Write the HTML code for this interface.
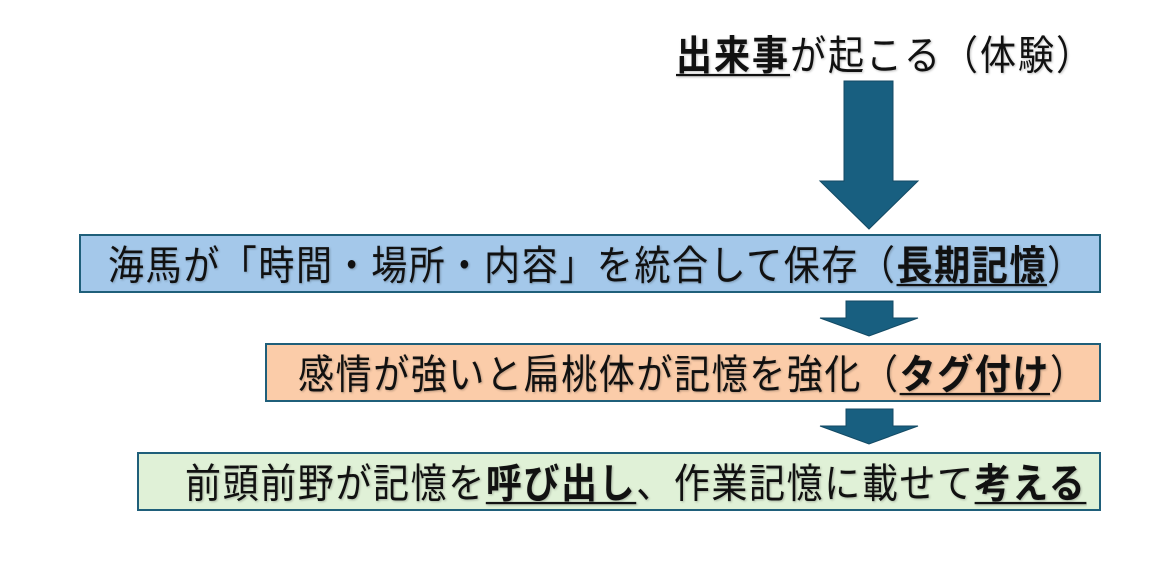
<!DOCTYPE html>
<html><head><meta charset="utf-8"><style>
body{margin:0;width:1168px;height:562px;background:#fff;position:relative;overflow:hidden;font-family:"Liberation Sans","Noto Sans CJK JP",sans-serif;}
.t{position:absolute;font-size:36px;line-height:40px;white-space:nowrap;color:#111;letter-spacing:1.6px;transform:scaleY(1.12);transform-origin:left center;text-shadow:1px 1px 2px rgba(0,0,0,0.25);}
.box{position:absolute;border:2px solid #1f5f7a;box-sizing:border-box;}
u{text-decoration-thickness:2px;text-underline-offset:4px;}
b{font-weight:bold;}
</style></head><body>
<div class="t" style="left:676px;top:36px;letter-spacing:2px;"><u><b>出来事</b></u>が起こる（体験）</div>
<svg style="position:absolute;left:0;top:0" width="1168" height="562">
<polygon points="844,81 893,81 893,181 918,181 869,229 820,181 844,181" fill="#185f80" stroke="#134a64" stroke-width="1"/>
<polygon points="846,301 893,301 893,318 918,318 869,336 820,318 846,318" fill="#185f80" stroke="#134a64" stroke-width="1"/>
<polygon points="846,409 893,409 893,426 918,426 869,444 820,426 846,426" fill="#185f80" stroke="#134a64" stroke-width="1"/>
</svg>
<div class="box" style="left:79px;top:234px;width:1022px;height:59px;background:#a4c8ea;"></div>
<div class="t" style="left:108px;top:246px;">海馬が「時間・場所・内容」を統合して保存（<u><b>長期記憶</b></u>）</div>
<div class="box" style="left:265px;top:343px;width:836px;height:59px;background:#fbcca9;"></div>
<div class="t" style="left:298px;top:355px;">感情が強いと扁桃体が記憶を強化（<u><b>タグ付け</b></u>）</div>
<div class="box" style="left:137px;top:452px;width:964px;height:59px;background:#e0f1d7;"></div>
<div class="t" style="left:185px;top:464px;">前頭前野が記憶を<u><b>呼び出し</b></u>、作業記憶に載せて<u><b>考える</b></u></div>
</body></html>
